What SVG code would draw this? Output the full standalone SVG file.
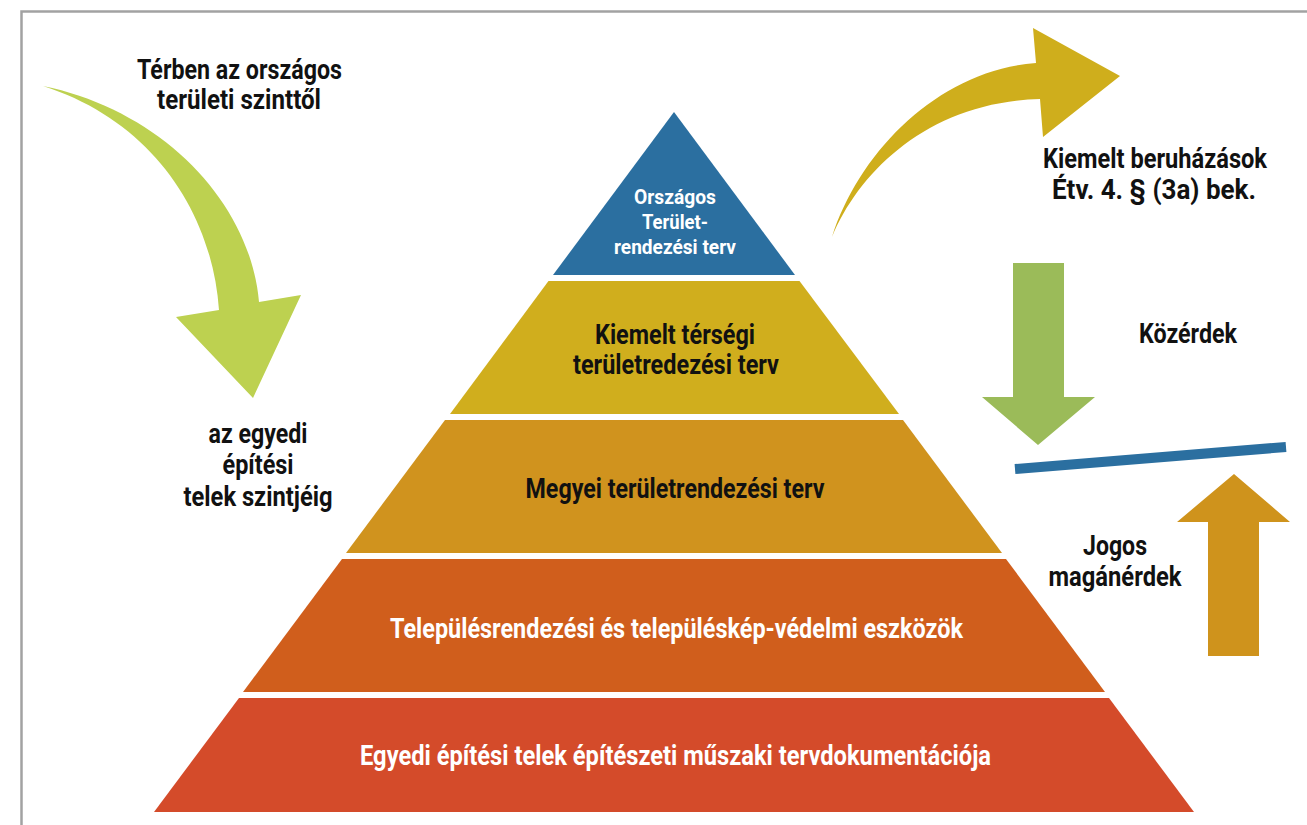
<svg xmlns="http://www.w3.org/2000/svg" width="1307" height="825" viewBox="0 0 1307 825">
<style>
text{font-family:Roboto,"Liberation Sans",sans-serif;font-weight:bold;text-anchor:middle;font-size:27px;fill:#111;}
.w{fill:#fff;}
.s{font-size:20px;}
</style>
<rect x="0" y="0" width="1307" height="825" fill="#fff"/>
<g id="frame"><path d="M21.5,825 V11.5 H1307" fill="none" stroke="#a2a2a2" stroke-width="2.5"/></g>
<g id="connectors">
<path id="arrow-left" d="M43,86 C160,110 250,200 259,302 L301,295 L253,398 L176,317 L219,310 C212,210 150,120 43,86 Z" fill="#BDD150"/>
<path id="arrow-right" d="M832,237 C860,150 940,70 1036,63 L1033,28 L1120,76 L1043,137 L1040,99 C930,102 860,170 832,237 Z" fill="#CFAE1C"/>
<path id="arrow-down" d="M1013,263 H1064 V397 H1095 L1038,445 L982,397 H1013 Z" fill="#9BBB59"/>
<path id="arrow-up" d="M1208,656 V522 H1177 L1234,474 L1290,522 H1259 V656 Z" fill="#CF931C"/>
<line id="balance" x1="1015" y1="469" x2="1286" y2="447" stroke="#2B6FA0" stroke-width="10"/>
</g>
<g id="label-top-left">
<text x="239.5" y="79" textLength="205" lengthAdjust="spacingAndGlyphs">Térben az országos</text>
<text x="239" y="109" textLength="164" lengthAdjust="spacingAndGlyphs">területi szinttől</text>
</g>
<g id="label-left">
<text x="258" y="443" textLength="99" lengthAdjust="spacingAndGlyphs">az egyedi</text>
<text x="258" y="474" textLength="71" lengthAdjust="spacingAndGlyphs">építési</text>
<text x="258" y="506" textLength="149" lengthAdjust="spacingAndGlyphs">telek szintjéig</text>
</g>
<g id="label-top-right">
<text x="1155" y="168" textLength="224" lengthAdjust="spacingAndGlyphs">Kiemelt beruházások</text>
<text x="1154" y="199" textLength="204" lengthAdjust="spacingAndGlyphs">Étv. 4. § (3a) bek.</text>
</g>
<g id="label-kozerdek"><text x="1188" y="343" textLength="98" lengthAdjust="spacingAndGlyphs">Közérdek</text></g>
<g id="label-maganerdek">
<text x="1115" y="555" textLength="64" lengthAdjust="spacingAndGlyphs">Jogos</text>
<text x="1115" y="586" textLength="133" lengthAdjust="spacingAndGlyphs">magánérdek</text>
</g>
<g id="level-1">
<polygon points="674,112 795,275 553,275" fill="#2B6FA0"/>
<text class="w s" x="675" y="204" textLength="82" lengthAdjust="spacingAndGlyphs">Országos</text>
<text class="w s" x="675" y="229" textLength="66" lengthAdjust="spacingAndGlyphs">Terület-</text>
<text class="w s" x="675" y="254" textLength="122" lengthAdjust="spacingAndGlyphs">rendezési terv</text>
</g>
<g id="level-2">
<polygon points="548.5,281 799.5,281 899,414 450,414" fill="#D0AE1D"/>
<text x="675" y="344" textLength="160" lengthAdjust="spacingAndGlyphs">Kiemelt térségi</text>
<text x="676" y="374" textLength="206" lengthAdjust="spacingAndGlyphs">területredezési terv</text>
</g>
<g id="level-3">
<polygon points="445,420 903,420 1002,553 346,553" fill="#D0931E"/>
<text x="675" y="498" textLength="299" lengthAdjust="spacingAndGlyphs">Megyei területrendezési terv</text>
</g>
<g id="level-4">
<polygon points="342,559 1006,559 1105,692 243,692" fill="#D05E1C"/>
<text class="w" x="676.5" y="638" textLength="573" lengthAdjust="spacingAndGlyphs">Településrendezési és településkép-védelmi eszközök</text>
</g>
<g id="level-5">
<polygon points="239,698 1109,698 1194,812 154,812" fill="#D44B2A"/>
<text class="w" x="675.5" y="765" textLength="631" lengthAdjust="spacingAndGlyphs">Egyedi építési telek építészeti műszaki tervdokumentációja</text>
</g>
</svg>
